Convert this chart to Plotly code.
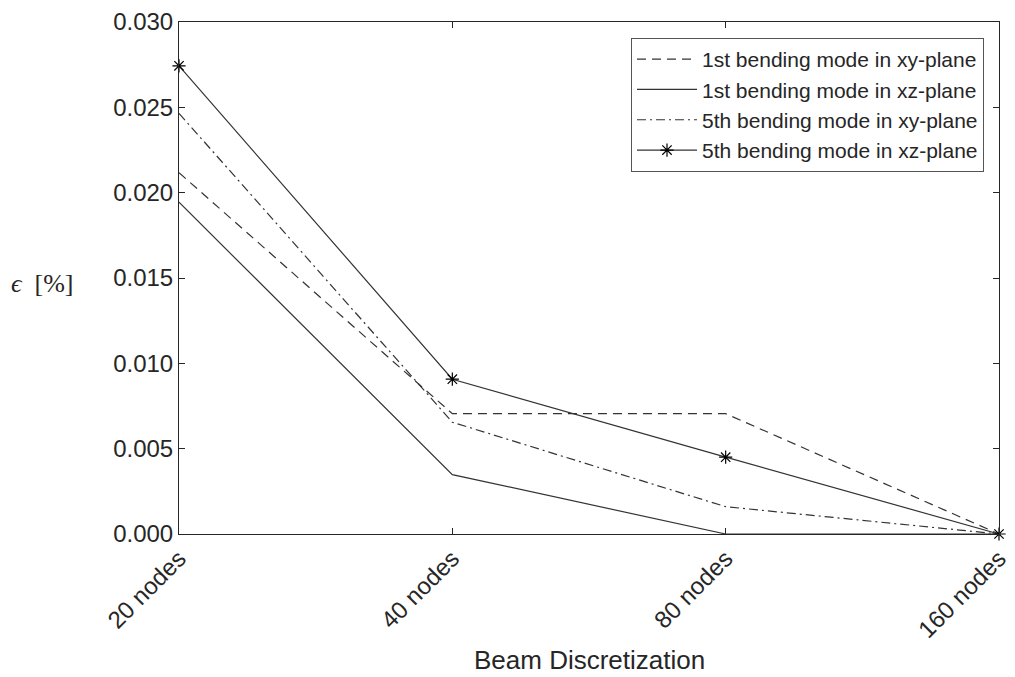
import plotly.graph_objects as go

categories = ["20 nodes", "40 nodes", "80 nodes", "160 nodes"]
first_xy = [0.02117, 0.00705, 0.00705, 0.0]
first_xz = [0.01944, 0.00348, 0.0, 0.0]
fifth_xy = [0.02465, 0.00655, 0.0016, 0.0]
fifth_xz = [0.02743, 0.00907, 0.0045, 0.0]
names = ["1st bending mode in xy-plane", "1st bending mode in xz-plane",
         "5th bending mode in xy-plane", "5th bending mode in xz-plane"]

LINE = "#333333"
TXT = "#262626"
FONT = "Liberation Sans, Arial, Helvetica, sans-serif"

fig = go.Figure()
fig.add_trace(go.Scatter(x=categories, y=first_xy, name=names[0], mode="lines",
                         line=dict(color=LINE, width=1.2, dash="9px,6px"), cliponaxis=False))
fig.add_trace(go.Scatter(x=categories, y=first_xz, name=names[1], mode="lines",
                         line=dict(color=LINE, width=1.2), cliponaxis=False))
fig.add_trace(go.Scatter(x=categories, y=fifth_xy, name=names[2], mode="lines",
                         line=dict(color=LINE, width=1.2, dash="9px,4px,2px,4px"), cliponaxis=False))
fig.add_trace(go.Scatter(x=categories, y=fifth_xz, name=names[3], mode="lines+markers",
                         line=dict(color=LINE, width=1.2),
                         marker=dict(symbol="asterisk-open", size=11, color="black",
                                     line=dict(color="black", width=1.2)),
                         cliponaxis=False))

fig.update_layout(
    width=1015, height=677,
    margin=dict(l=179, r=16, t=22, b=143, autoexpand=False),
    paper_bgcolor="white", plot_bgcolor="white",
    font=dict(family=FONT, size=24, color=TXT),
    showlegend=True,
    legend=dict(x=(984 - 179) / 820, xanchor="right", y=(534 - 38) / 512, yanchor="top",
                bgcolor="white", bordercolor="#555555", borderwidth=1,
                font=dict(family=FONT, size=21, color=TXT),
                tracegroupgap=0, itemwidth=60),
    xaxis=dict(type="category", range=[0, 3], showline=True, linecolor=TXT, linewidth=1,
               mirror="ticks", ticks="inside", ticklen=6, tickcolor=TXT,
               tickangle=-45, tickfont=dict(size=24, color=TXT), automargin=False,
               showgrid=False, zeroline=False),
    yaxis=dict(range=[0, 0.03], dtick=0.005, tickformat=".3f", showline=True, linecolor=TXT,
               linewidth=1, mirror="ticks", ticks="inside", ticklen=6, tickcolor=TXT,
               tickfont=dict(size=24, color=TXT), automargin=False,
               showgrid=False, zeroline=False),
)

fig.add_annotation(text="Beam Discretization", xref="paper", yref="paper",
                   x=0.5, y=-(660 - 534) / 512, xanchor="center", yanchor="middle",
                   showarrow=False, font=dict(family=FONT, size=26, color=TXT))

fig.add_annotation(text="<i>ϵ</i>  [%]", xref="paper", yref="paper",
                   x=(42 - 179) / 820, y=(534 - 283) / 512, xanchor="center", yanchor="middle",
                   showarrow=False, font=dict(family="Liberation Serif, DejaVu Serif, serif", size=26, color=TXT))

fig.write_html("out.html")
